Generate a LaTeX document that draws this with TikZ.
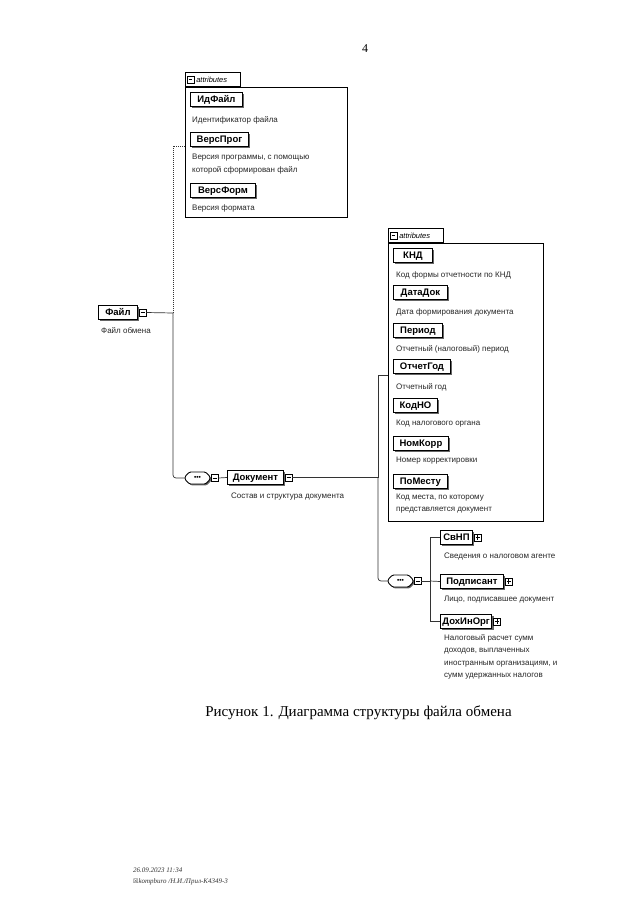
\documentclass[tikz,border=0pt]{standalone}
\usepackage{fontspec}
\setmainfont{Liberation Serif}
\newfontfamily\arial{Liberation Sans}
\newfontfamily\dejavu{DejaVu Sans}
\usetikzlibrary{shapes.misc,shadows}
\tikzset{
  conn/.style={line width=0.7pt, black!80},
  elem/.style={draw, line width=0.9pt, fill=white, font=\arial\bfseries\fontsize{9.5}{10}\selectfont,
    minimum height=14pt, inner xsep=2pt, inner ysep=0pt, text height=6.9pt, text depth=0pt, anchor=west,
    general shadow={fill=black!60, shadow xshift=1.8pt, shadow yshift=-1.8pt}},
  desc/.style={font=\arial\fontsize{8}{12.3}\selectfont, anchor=west, inner sep=0pt, text=black!85, align=left},
  expbase/.style={draw, fill=white, minimum size=7pt, inner sep=0pt, line width=0.5pt, anchor=west, xshift=1pt},
  expm/.style={expbase, path picture={\draw[line width=0.5pt] ([xshift=1.4pt]path picture bounding box.west) -- ([xshift=-1.4pt]path picture bounding box.east);}},
  expp/.style={expbase, path picture={\draw[line width=0.5pt] ([xshift=1.4pt]path picture bounding box.west) -- ([xshift=-1.4pt]path picture bounding box.east);
      \draw[line width=0.5pt] ([yshift=1.4pt]path picture bounding box.south) -- ([yshift=-1.4pt]path picture bounding box.north);}},
  seqsym/.style={chamfered rectangle, chamfered rectangle xsep=3pt, draw, line width=0.9pt, fill=white,
    minimum width=25pt, minimum height=12pt, inner sep=0pt, rounded corners=1.2pt,
    general shadow={fill=black!60, shadow xshift=1.4pt, shadow yshift=-1.4pt},
    font=\arial\bfseries\fontsize{6.5}{6.5}\selectfont},
  attbox/.style={draw, line width=0.8pt, inner sep=0pt, anchor=north west},
  atttab/.style={draw, line width=0.6pt, minimum height=14pt, anchor=south west, inner xsep=2pt, inner ysep=0pt,
    align=left, font=\arial\itshape\fontsize{7.5}{8}\selectfont},
}
\begin{document}
\begin{tikzpicture}[x=1pt,y=-1pt]
\useasboundingbox (0,0) rectangle (640,921);

% page number
\node[font=\fontsize{12}{14}\selectfont] (pg) at (365,49) {4};

% ===== top attributes container =====
\node[attbox, minimum width=162pt, minimum height=130pt] (att1) at (185,87) {};
\node[atttab, text width=51pt] (tab1) at (att1.north west) {\hspace{9pt}attributes};
\node[expm, minimum size=6.5pt, xshift=1pt] (tm1) at (tab1.west) {};

\node[elem, minimum width=52pt] (idf) at (190,99.5) {ИдФайл};
\node[desc] (didf) at (192,120) {Идентификатор файла};
\node[elem, minimum width=58pt] (vpr) at (190,139) {ВерсПрог};
\node[desc] (dvpr) at (192,164) {Версия программы, с помощью\\которой сформирован файл};
\node[elem, minimum width=65pt] (vfm) at (190,190) {ВерсФорм};
\node[desc] (dvfm) at (192,208) {Версия формата};

% ===== Файл =====
\node[elem, minimum width=39pt] (fl) at (98,312.5) {Файл};
\node[expm] (flm) at (fl.east) {};
\node[desc] (dfl) at (101,331) {Файл обмена};

\coordinate (j1) at (173,313);
\coordinate (a1) at (185,146);
\draw[conn] (flm.east) -- (j1);
\draw[conn, dash pattern=on 1.2pt off 0.8pt] (j1) |- (a1);

% ===== sequence 1 and Документ =====
\node[seqsym] (sq1) at (197.5,478) {•••};
\node[expm, xshift=-0.5pt] (sq1m) at (sq1.east) {};
\draw[conn, rounded corners=3pt] (j1) |- (sq1.west);

\node[elem, minimum width=56pt] (doc) at (227,477.5) {Документ};
\node[expm] (docm) at (doc.east) {};
\node[desc] (ddoc) at (231,497) {Состав и структура документа};
\draw[conn] (sq1m.east) -- (doc.west);

\coordinate (j2) at (378,477.5);
\draw[conn] (docm.east) -- (j2);

% ===== second attributes container =====
\node[attbox, minimum width=155pt, minimum height=278pt] (att2) at (388,243) {};
\node[atttab, text width=51pt] (tab2) at (att2.north west) {\hspace{9pt}attributes};
\node[expm, minimum size=6.5pt, xshift=1pt] (tm2) at (tab2.west) {};
\coordinate (a2) at (388,375);
\draw[conn] (j2) |- (a2);

\node[elem, minimum width=39pt] (knd) at (393,255.5) {КНД};
\node[desc] (dknd) at (396,275) {Код формы отчетности по КНД};
\node[elem, minimum width=54pt] (dtd) at (393,292.5) {ДатаДок};
\node[desc] (ddtd) at (396,312) {Дата формирования документа};
\node[elem, minimum width=49pt] (per) at (393,330) {Период};
\node[desc] (dper) at (396,349) {Отчетный (налоговый) период};
\node[elem, minimum width=57pt] (otg) at (393,366.5) {ОтчетГод};
\node[desc] (dotg) at (396,387) {Отчетный год};
\node[elem, minimum width=44pt] (kno) at (393,405.5) {КодНО};
\node[desc] (dkno) at (396,424) {Код налогового органа};
\node[elem, minimum width=55pt] (nkr) at (393,443.5) {НомКорр};
\node[desc] (dnkr) at (396,461) {Номер корректировки};
\node[elem, minimum width=54pt] (pms) at (393,481.5) {ПоМесту};
\node[desc] (dpms) at (396,503.5) {Код места, по которому\\представляется документ};

% ===== sequence 2 and children =====
\node[seqsym] (sq2) at (400.5,581) {•••};
\node[expm, xshift=-0.5pt] (sq2m) at (sq2.east) {};
\draw[conn, rounded corners=3pt] (j2) |- (sq2.west);

\coordinate (j3) at (430,581);
\draw[conn] (sq2m.east) -- (j3);

\node[elem, minimum width=32pt] (svnp) at (440,537.5) {СвНП};
\node[expp] (svnpp) at (svnp.east) {};
\node[desc] (dsvnp) at (444,556) {Сведения о налоговом агенте};

\node[elem, minimum width=63pt] (pdp) at (440,581.5) {Подписант};
\node[expp] (pdpp) at (pdp.east) {};
\node[desc] (dpdp) at (444,600) {Лицо, подписавшее документ};

\node[elem, minimum width=47pt] (dio) at (440,621.5) {ДохИнОрг};
\node[expp] (diop) at (dio.east) {};
\node[desc] (ddio) at (444,657) {Налоговый расчет сумм\\доходов, выплаченных\\иностранным организациям, и\\сумм удержанных налогов};

\draw[conn] (j3) |- (svnp.west);
\draw[conn] (j3) -- (pdp.west);
\draw[conn] (j3) |- (dio.west);

% ===== caption and footer =====
\node[font=\fontsize{15}{17}\selectfont] (cap) at (358.5,713) {Рисунок 1. Диаграмма структуры файла обмена};
\node[font=\itshape\fontsize{7}{11}\selectfont, anchor=north west, align=left, inner sep=0pt, text=black!80] (foot) at (133,868)
  {26.09.2023 11:34\\{\dejavu\upshape\fontsize{6}{7}\selectfont ☒}kompburo /Н.И./Прил-К4349-3};
\end{tikzpicture}
\end{document}
